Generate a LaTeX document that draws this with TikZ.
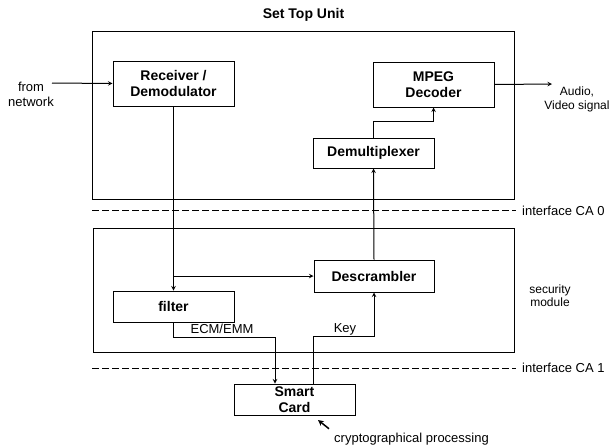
\documentclass[tikz,border=0pt]{standalone}
\usepackage{fontspec}
\setmainfont{Liberation Sans}
\usetikzlibrary{calc}
\tikzset{
	blk/.style={draw, line width=1pt, align=center, inner sep=0pt, font=\fontsize{14}{16}\selectfont\bfseries},
	lbl/.style={inner sep=0pt, align=center, font=\fontsize{13}{15}\selectfont},
	sig/.style={line width=1pt, ->, >=stealth},
	iface/.style={line width=1pt, dash pattern=on 7pt off 3pt}
}

\begin{document}
\begin{tikzpicture}[x=1pt, y=-1pt]
		%%%%% START %%%%%
		\useasboundingbox (0, 0) rectangle (611, 445);
		
		% set top unit
		\node[font=\fontsize{14}{16}\selectfont\bfseries] (stutitle) at (303.5, 15) {Set Top Unit};
		\draw[line width=1pt] (92, 31) rectangle (514, 199);
		
		\node[blk, minimum width=121, minimum height=45] (recv) at (173.5, 83.5) {Receiver /\\Demodulator};
		\node[blk, minimum width=121, minimum height=45] (mpeg) at (433.5, 84.5) {MPEG\\Decoder};
		\node[blk, minimum width=121, minimum height=30] (demux) at (373.5, 153) {Demultiplexer};
		
		% security module
		\draw[line width=1pt] (93, 228) rectangle (514, 352);
		\node[blk, minimum width=120, minimum height=32] (descr) at (374, 276) {Descrambler};
		\node[blk, minimum width=121, minimum height=31] (filter) at (173.5, 306.5) {filter};
		\node[lbl, font=\fontsize{12}{13.5}\selectfont] (secmod) at (550, 295.5) {security\\module};
		
		\node[blk, minimum width=121, minimum height=31] (card) at (294.5, 399.5) {Smart\\Card};
		
		% interfaces
		\coordinate (ca0l) at (92, 210);
		\coordinate (ca0r) at (516, 210);
		\draw[iface] (ca0l) -- (ca0r);
		\node[lbl, anchor=west] (ca0) at (522, 211) {interface CA 0};
		
		\coordinate (ca1l) at (92, 368);
		\coordinate (ca1r) at (516, 368);
		\draw[iface] (ca1l) -- (ca1r);
		\node[lbl, anchor=west] (ca1) at (522, 368) {interface CA 1};
		
		% signals
		\coordinate (net) at (52, 83);
		\node[lbl] (from) at (31, 94) {from\\network};
		\draw[sig] (net) -- (recv.west);
		
		\coordinate (av) at (552, 84);
		\node[lbl, font=\fontsize{12}{14}\selectfont] (audio) at (577, 99.5) {Audio,\\Video signal};
		\draw[sig] (mpeg.east) -- (av);
		
		\draw[sig] (filter.north |- recv.south) -- (filter.north);
		\draw[sig] (filter.north |- descr.west) -- (descr.west);
		\draw[sig] (descr.north) -- (demux.south);
		\draw[sig] (demux.north) -- ++(0, -16) -| (mpeg.south);
		
		\draw[sig] (filter.south) -- ++(0, 15) -| ([xshift=-19.5]card.north);
		\draw[sig] ([xshift=18.5]card.north) -- ++(0, -47) -| (descr.south);
		\node[lbl] (ecm) at (222, 329) {ECM/EMM};
		\node[lbl] (key) at (345, 329) {Key};
		
		% processing note
		\node[lbl, anchor=west] (crypto) at (334, 439) {cryptographical processing};
		\coordinate (cardtip) at (318, 420);
		\draw[sig, line width=1.5pt] ($(crypto.north west)+(-5, -4)$) -- (cardtip);
		
		%%%%% END %%%%%
	\end{tikzpicture}
\end{document}
